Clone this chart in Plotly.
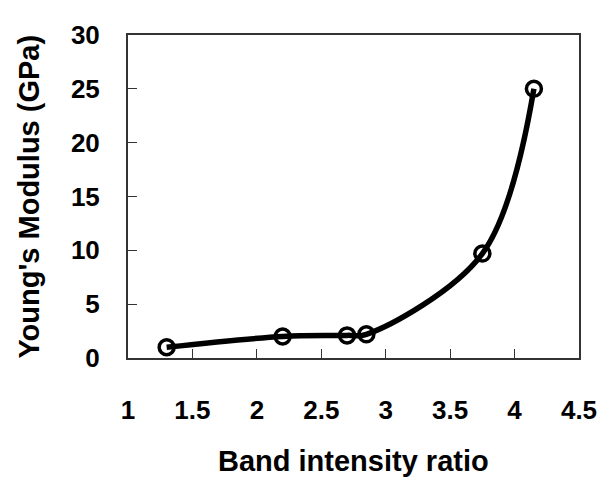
import plotly.graph_objects as go

band_ratio = [1.3, 2.2, 2.7, 2.85, 3.75, 4.15]
youngs_modulus = [1.0, 2.0, 2.1, 2.2, 9.7, 25.0]

x_ticks = [1, 1.5, 2, 2.5, 3, 3.5, 4, 4.5]
x_tick_labels = ["1", "1.5", "2", "2.5", "3", "3.5", "4", "4.5"]
y_ticks = [0, 5, 10, 15, 20, 25, 30]
y_tick_labels = ["0", "5", "10", "15", "20", "25", "30"]

FONT = "Liberation Sans, Arial, sans-serif"

fig = go.Figure()
fig.add_trace(go.Scatter(
    x=band_ratio, y=youngs_modulus, mode="lines",
    line=dict(color="black", width=5.5, shape="spline", smoothing=1.0),
    hoverinfo="skip", showlegend=False,
))
fig.add_trace(go.Scatter(
    x=band_ratio, y=youngs_modulus, mode="markers",
    marker=dict(symbol="circle-open", size=15, color="black",
                line=dict(color="black", width=3.5)),
    showlegend=False,
))

fig.update_layout(
    width=601, height=473,
    margin=dict(l=120, r=25, t=15, b=123),
    paper_bgcolor="white", plot_bgcolor="white",
    font=dict(family=FONT, color="black", size=26, weight="bold"),
    xaxis=dict(
        range=[1, 4.5], tickmode="array", tickvals=x_ticks, ticktext=x_tick_labels,
        ticks="inside", ticklen=9, tickwidth=1, tickcolor="#333",
        showline=True, linecolor="#333", linewidth=2, mirror=True,
        showgrid=False, zeroline=False,
        tickfont=dict(size=26, weight="bold"), ticklabelstandoff=28,
    ),
    yaxis=dict(
        range=[0, 30], tickmode="array", tickvals=y_ticks, ticktext=y_tick_labels,
        ticks="inside", ticklen=9, tickwidth=1, tickcolor="#333",
        showline=True, linecolor="#333", linewidth=2, mirror=True,
        showgrid=False, zeroline=False,
        tickfont=dict(size=26, weight="bold"), ticklabelstandoff=21,
    ),
    annotations=[
        dict(text="Band intensity ratio", xref="paper", yref="paper",
             x=0.5, y=-0.319, xanchor="center", yanchor="middle",
             showarrow=False, font=dict(size=29, weight="bold")),
        dict(text="Young's Modulus (GPa)", xref="paper", yref="paper",
             x=-0.2215, y=0.5, xanchor="center", yanchor="middle",
             textangle=-90, showarrow=False, font=dict(size=29, weight="bold")),
    ],
)

fig.write_html("out.html")
